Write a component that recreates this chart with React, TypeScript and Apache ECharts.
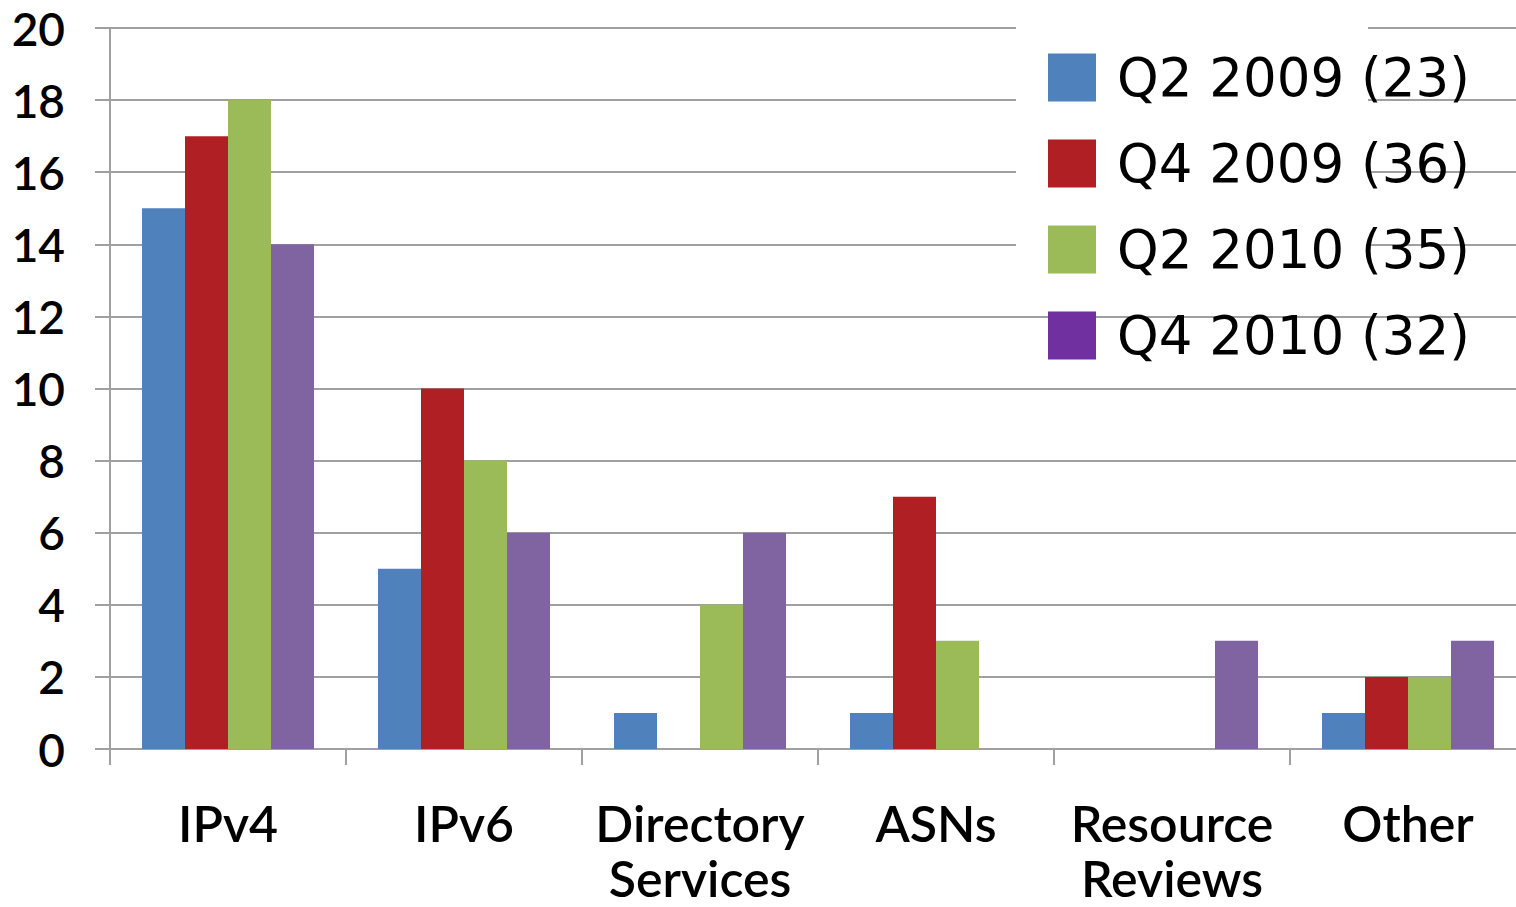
import React, { useEffect, useRef } from "react";
import * as echarts from "echarts";

const categories = ["IPv4", "IPv6", "Directory\nServices", "ASNs", "Resource\nReviews", "Other"];
const seriesNames = ["Q2 2009 (23)", "Q4 2009 (36)", "Q2 2010 (35)", "Q4 2010 (32)"];
const q2_2009 = [15, 5, 1, 1, 0, 1];
const q4_2009 = [17, 10, 0, 7, 0, 2];
const q2_2010 = [18, 8, 4, 3, 0, 2];
const q4_2010 = [14, 6, 6, 0, 3, 3];
const seriesValues = [q2_2009, q4_2009, q2_2010, q4_2010];
const barColors = ["#4F81BD", "#B01F24", "#9BBB59", "#8064A2"];
const legendColors = ["#4F81BD", "#B01F24", "#9BBB59", "#7030A0"];

const AXIS_FONT = "Lato";
const LEGEND_FONT = "DejaVu Sans";

export default function App() {
  const ref = useRef<HTMLDivElement>(null);
  useEffect(() => {
    if (!ref.current) return;
    const chart = echarts.init(ref.current, undefined, { renderer: "svg" });
    chart.setOption({
      animation: false,
      backgroundColor: "#ffffff",
      grid: {
        left: 110,
        right: 0,
        top: 28,
        height: 721,
        containLabel: false,
        outerBoundsMode: "none",
      },
      graphic: [
        {
          type: "rect",
          z: 3,
          shape: { x: 1016, y: 14, width: 352, height: 290 },
          style: { fill: "#ffffff" },
        },
      ],
      legend: {
        z: 10,
        left: 1043,
        top: 46,
        orient: "vertical",
        itemWidth: 48,
        itemHeight: 48,
        itemGap: 33,
        icon: "rect",
        selectedMode: false,
        textStyle: { fontFamily: LEGEND_FONT, fontSize: 53, color: "#000", padding: [0, 0, 0, 16] },
        data: seriesNames.map((n, i) => ({ name: n, itemStyle: { color: legendColors[i] } })),
      },
      xAxis: {
        type: "category",
        data: categories,
        axisLine: { lineStyle: { color: "#A0A0A0", width: 2 } },
        axisTick: { show: true, length: 16, lineStyle: { color: "#A0A0A0", width: 2 } },
        axisLabel: {
          fontFamily: AXIS_FONT,
          fontWeight: 600,
          fontSize: 50,
          color: "#000",
          margin: 46,
          lineHeight: 55,
          interval: 0,
        },
      },
      yAxis: {
        type: "value",
        min: 0,
        max: 20,
        interval: 2,
        axisLine: { show: true, lineStyle: { color: "#A0A0A0", width: 2 } },
        axisTick: { show: true, length: 15, lineStyle: { color: "#A0A0A0", width: 2 } },
        splitLine: { show: true, lineStyle: { color: "#A0A0A0", width: 2 } },
        axisLabel: { fontFamily: AXIS_FONT, fontWeight: 600, fontSize: 46, color: "#000", margin: 45 },
      },
      series: seriesNames.map((n, i) => ({
        name: n,
        type: "bar",
        data: seriesValues[i],
        barWidth: 43,
        barGap: "0%",
        itemStyle: { color: barColors[i] },
      })),
    });
    return () => chart.dispose();
  }, []);
  return (
    <div
      ref={ref}
      style={{ position: "fixed", left: 0, top: 0, width: 1526, height: 907 }}
    />
  );
}
